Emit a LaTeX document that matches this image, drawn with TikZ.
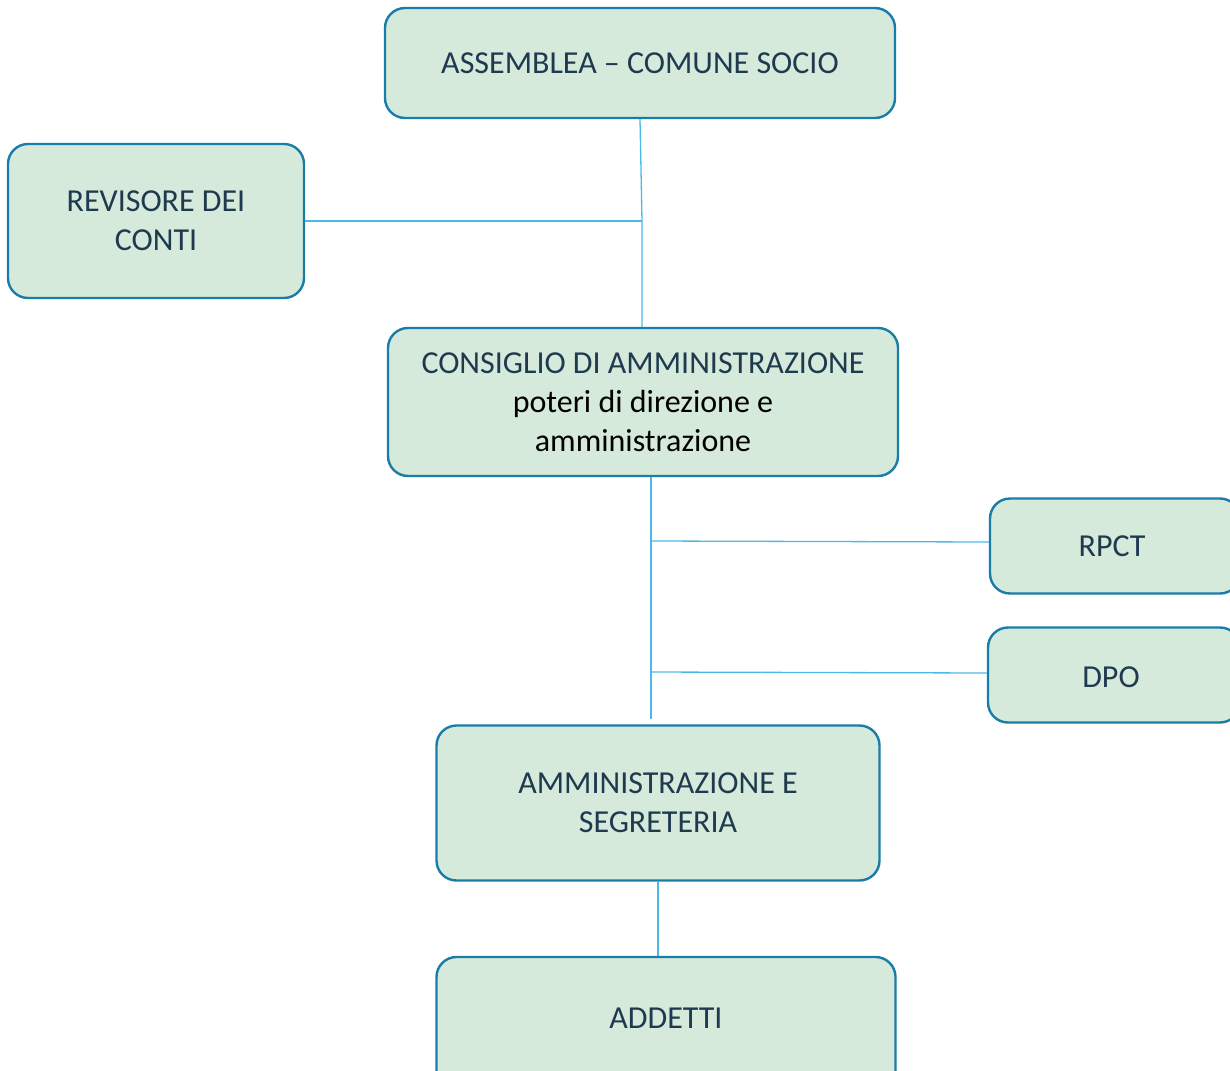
\documentclass[tikz,border=0pt]{standalone}
\usepackage{fontspec}
\setmainfont{Carlito}
\definecolor{boxfill}{HTML}{D5EADB}
\definecolor{boxedge}{HTML}{1A7DA8}
\definecolor{linkc}{HTML}{4DB8E8}
\definecolor{txt}{HTML}{1F3A4F}
\begin{document}
\begin{tikzpicture}[x=1pt,y=-1pt,
  boxfont/.style={font=\fontsize{32}{39}\selectfont},
  orgbox/.style={draw=boxedge,fill=boxfill,line width=2.4pt,rounded corners=20pt,
    align=center,text=txt,inner sep=0pt,boxfont},
  link/.style={draw=linkc,line width=1.3pt}]
\useasboundingbox (0,0) rectangle (1230,1070);
\clip (0,0) rectangle (1230,1070);
\node[orgbox,minimum width=510pt,minimum height=110pt] (ass) at (640,63) {ASSEMBLEA – COMUNE SOCIO};
\node[orgbox,minimum width=296pt,minimum height=154pt] (rev) at (156,221) {REVISORE DEI\\CONTI};
\node[orgbox,minimum width=510pt,minimum height=148pt] (cons) at (643,402) {CONSIGLIO DI AMMINISTRAZIONE\\\color{black}poteri di direzione e\\\color{black}amministrazione};
\node[orgbox,minimum width=250pt,minimum height=95pt] (rpct) at (1115,546) {};
\node[text=txt,boxfont] (rpcttext) at (1112,546) {RPCT};
\node[orgbox,minimum width=252pt,minimum height=95pt] (dpo) at (1114,675) {};
\node[text=txt,boxfont] (dpotext) at (1111,677) {DPO};
\node[orgbox,minimum width=443pt,minimum height=155pt] (amm) at (658,803) {AMMINISTRAZIONE E\\SEGRETERIA};
\node[orgbox,minimum width=459pt,minimum height=140pt] (add) at (666,1027) {};
\node[text=txt,boxfont] (addtext) at (666,1018) {ADDETTI};
\coordinate (j1) at (642,221);
\coordinate (j2) at (651,541);
\coordinate (j3) at (651,672);
\coordinate (j4) at (651,719);
\draw[link] (ass.south) -- (j1) -- (cons.north -| j1);
\draw[link] (rev.east) -- (j1);
\draw[link] (cons.south -| j2) -- (j4);
\draw[link] (j2) -- ([yshift=4pt]rpct.west);
\draw[link] (j3) -- ([yshift=2pt]dpo.west);
\draw[link] (amm.south) -- (add.north -| amm.south);
\end{tikzpicture}
\end{document}
